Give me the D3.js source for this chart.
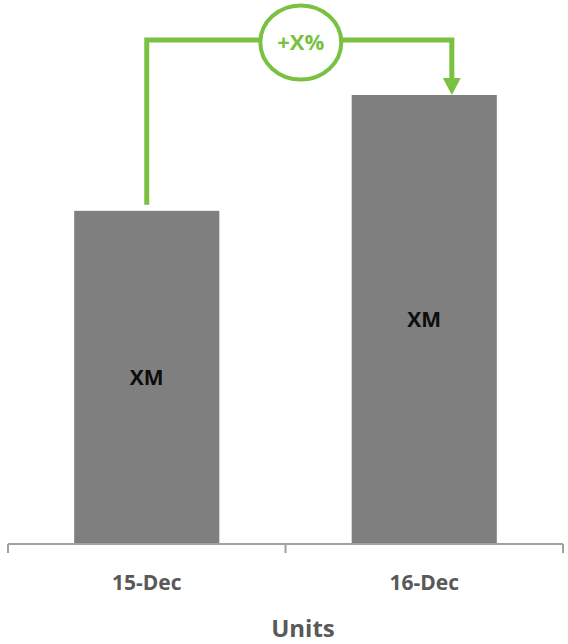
<!DOCTYPE html>
<html>
<head>
<meta charset="utf-8">
<script src="https://cdn.jsdelivr.net/npm/d3@7"></script>
<style>
  html, body { margin: 0; padding: 0; background: #fff; }
  svg { display: block; }
</style>
</head>
<body>
<svg id="chart" width="568" height="644"></svg>
<script>
const categories = ["15-Dec", "16-Dec"];
const values = [74.2, 100];
const barLabels = ["XM", "XM"];
const changeLabel = "+X%";
const axisTitle = "Units";

const W = 568, H = 644;
const svg = d3.select("#chart");
const green = "#7ac143";
const fontFam = "'Open Sans', 'Liberation Sans', sans-serif";

const x = d3.scaleBand().domain(categories).range([8, 563])
  .paddingInner(0.477).paddingOuter(0.2385);
const y = d3.scaleLinear().domain([0, 100]).range([544, 95]);

// bars
svg.selectAll("rect.bar").data(values).enter().append("rect")
  .attr("class", "bar")
  .attr("x", (d, i) => x(categories[i]))
  .attr("y", d => y(d))
  .attr("width", x.bandwidth())
  .attr("height", d => y(0) - y(d))
  .attr("fill", "#7f7f7f");

// bar labels
svg.selectAll("text.blab").data(values).enter().append("text")
  .attr("class", "blab")
  .attr("x", (d, i) => x(categories[i]) + x.bandwidth() / 2)
  .attr("y", d => (y(d) + y(0)) / 2)
  .attr("dy", "0.35em")
  .attr("text-anchor", "middle")
  .attr("font-family", fontFam)
  .attr("font-weight", "bold")
  .attr("font-size", 21)
  .attr("fill", "#0d0d0d")
  .text((d, i) => barLabels[i]);

// axis
const axis = d3.axisBottom(x).tickSize(0).tickPadding(31);
const gAx = svg.append("g").attr("transform", `translate(0,${y(0)})`).call(axis);
gAx.select(".domain").attr("stroke", "#a0a0a0").attr("stroke-width", 2)
  .attr("d", `M${x.range()[0]},0H${x.range()[1]}`);
gAx.selectAll(".tick text")
  .attr("font-family", fontFam)
  .attr("font-weight", "bold")
  .attr("font-size", 21)
  .attr("fill", "#595959")
  .attr("dy", "0.71em");
// boundary ticks
const bounds = [x.range()[0], (x.range()[0] + x.range()[1]) / 2, x.range()[1]];
gAx.selectAll("line.bt").data(bounds).enter().append("line")
  .attr("class", "bt")
  .attr("x1", d => d).attr("x2", d => d)
  .attr("y1", 0).attr("y2", 9)
  .attr("stroke", "#a0a0a0").attr("stroke-width", 2);

// axis title
svg.append("text")
  .attr("x", 303).attr("y", 637)
  .attr("text-anchor", "middle")
  .attr("font-family", fontFam)
  .attr("font-weight", "bold")
  .attr("font-size", 24)
  .attr("fill", "#595959")
  .text(axisTitle);

// change annotation
const xa = x(categories[0]) + x.bandwidth() / 2;
const xb = x(categories[1]) + x.bandwidth() * 0.69;
const yTop = 40;
const yStart = y(values[0]) - 6;
const yTip = y(values[1]);
svg.append("path")
  .attr("d", `M${xa},${yStart}V${yTop}H${xb}V${yTip - 15}`)
  .attr("fill", "none")
  .attr("stroke", green)
  .attr("stroke-width", 5);
svg.append("path")
  .attr("d", `M${xb - 9},${yTip - 17}L${xb + 9},${yTip - 17}L${xb},${yTip}Z`)
  .attr("fill", green);

const cx = 300.8, cy = 42.5;
svg.append("ellipse")
  .attr("cx", cx).attr("cy", cy).attr("rx", 40.5).attr("ry", 37)
  .attr("fill", "#fff").attr("stroke", green).attr("stroke-width", 4);
svg.append("text")
  .attr("x", cx).attr("y", cy)
  .attr("dy", "0.35em")
  .attr("text-anchor", "middle")
  .attr("font-family", fontFam)
  .attr("font-weight", "bold")
  .attr("font-size", 22)
  .attr("fill", green)
  .text(changeLabel);
</script>
</body>
</html>
